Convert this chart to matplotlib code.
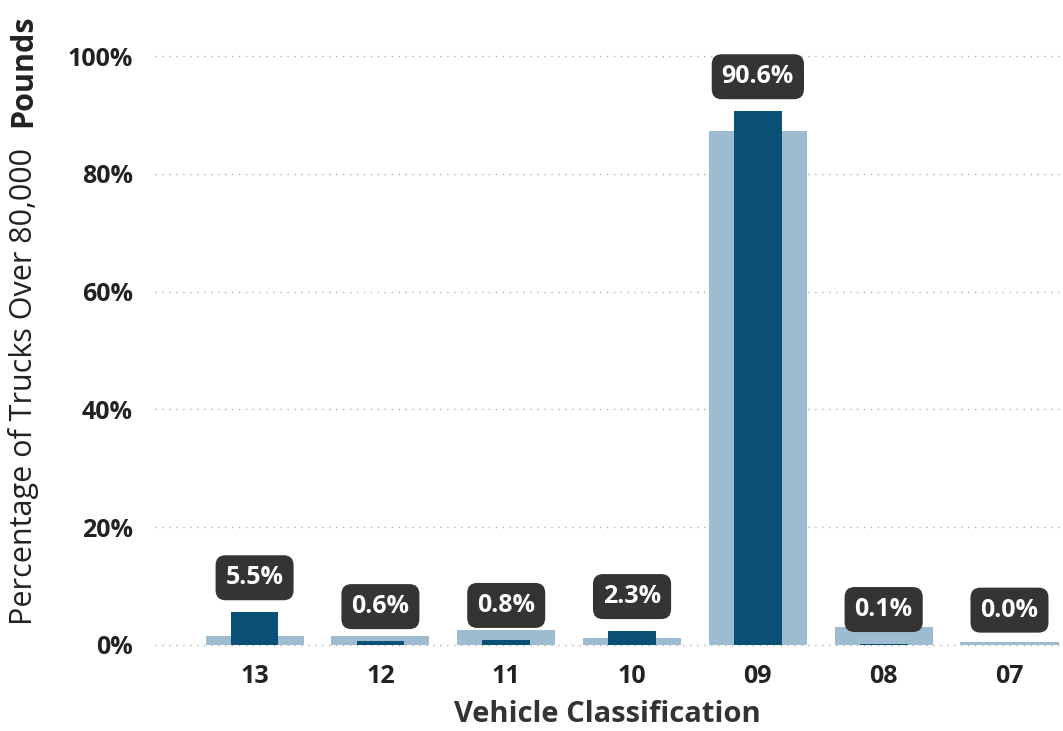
import matplotlib.pyplot as plt

classes = ["13", "12", "11", "10", "09", "08", "07"]
overweight_share = [5.5, 0.6, 0.8, 2.3, 90.6, 0.1, 0.0]
all_truck_share = [1.5, 1.5, 2.5, 1.2, 87.3, 3.0, 0.5]

plt.rcParams['font.family'] = ['Open Sans', 'DejaVu Sans']

fig = plt.figure(figsize=(10.63, 7.31), dpi=100)
ax = fig.add_axes([0.146, 0.111, 0.851, 0.834])

x = list(range(len(classes)))
ax.bar(x, all_truck_share, width=0.78, color="#9dbcd0", zorder=2)
ax.bar(x, overweight_share, width=0.38, color="#0b5077", zorder=3)

for xi, v in zip(x, overweight_share):
    ax.annotate(f"{v:.1f}%", (xi, v), xytext=(0, 16), textcoords="offset points",
                ha="center", va="bottom", color="white", fontsize=18, fontweight="bold",
                bbox=dict(boxstyle="round,pad=0.4,rounding_size=0.4", fc="#363433", ec="none"),
                zorder=4)

ax.set_xlim(-0.79, 6.40)
ax.set_ylim(-0.85, 102.7)
ax.set_yticks([0, 20, 40, 60, 80, 100])
ax.set_yticklabels([f"{t}%" for t in [0, 20, 40, 60, 80, 100]])
ax.set_xticks(x)
ax.set_xticklabels(classes)
ax.yaxis.grid(True, linestyle=(0, (1, 4)), color="#b0b0b0", linewidth=1, zorder=0)
for s in ax.spines.values():
    s.set_visible(False)
ax.tick_params(length=0, labelsize=18, colors="#222222", pad=10)
ax.tick_params(axis="y", pad=16)
for lab in ax.get_xticklabels() + ax.get_yticklabels():
    lab.set_fontweight("bold")

ax.set_xlabel("Vehicle Classification", fontsize=21, fontweight="bold", color="#333333", labelpad=8)
fig.text(0.022, 0.145, "Percentage of Trucks Over 80,000", rotation=90, fontsize=22,
         color="#222222", ha="center", va="bottom")
fig.text(0.022, 0.98, "Pounds", rotation=90, fontsize=22, fontweight="bold",
         color="#222222", ha="center", va="top")

fig.savefig("out.png", dpi=100)
